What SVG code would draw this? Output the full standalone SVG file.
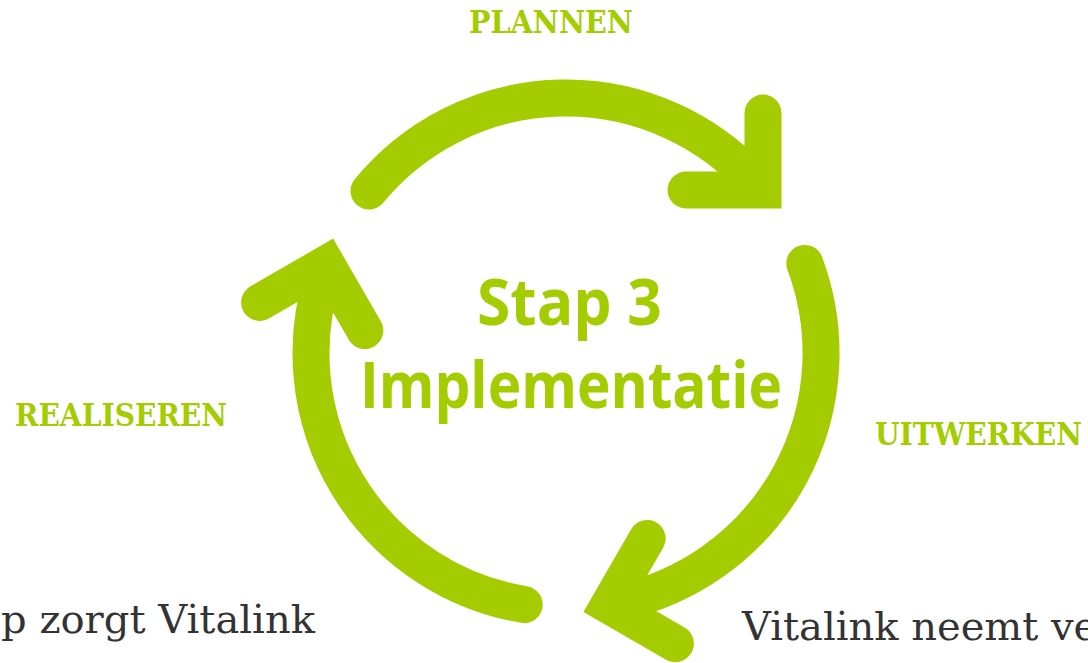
<svg xmlns="http://www.w3.org/2000/svg" width="1088" height="663" viewBox="0 0 1088 663">
<style>
.arr{fill:none;stroke:#a4cc00;stroke-width:37;stroke-linecap:round;stroke-linejoin:miter}
.lbl{font-family:"DejaVu Serif","Liberation Serif",serif;font-weight:bold;font-size:32px;fill:#a4cc00}
.ttl{font-family:"Open Sans","Liberation Sans",sans-serif;font-weight:bold;font-size:65px;fill:#a4cc00;text-anchor:middle}
.body{font-family:"DejaVu Serif","Liberation Serif",serif;font-size:40px;fill:#333333}
</style>
<defs>
<g id="arrow">
<path class="arr" d="M369,191 A255,255 0 0 1 755.5,182.4"/>
<path class="arr" d="M763,113 L763,190 L686,190"/>
</g>
</defs>
<rect width="1088" height="663" fill="#ffffff"/>
<g id="connectors">
<use href="#arrow"/>
<use href="#arrow" transform="rotate(120 566 353)"/>
<use href="#arrow" transform="rotate(240 566 353)"/>
</g>
<g id="plannen"><text class="lbl" x="469" y="33" textLength="164" lengthAdjust="spacingAndGlyphs">PLANNEN</text></g>
<g id="uitwerken"><text class="lbl" x="875" y="445" textLength="207" lengthAdjust="spacingAndGlyphs">UITWERKEN</text></g>
<g id="realiseren"><text class="lbl" x="15" y="426" textLength="212" lengthAdjust="spacingAndGlyphs">REALISEREN</text></g>
<g id="title">
<text class="ttl" x="569.5" y="325" textLength="185" lengthAdjust="spacingAndGlyphs">Stap 3</text>
<text class="ttl" x="571" y="408" textLength="422" lengthAdjust="spacingAndGlyphs">Implementatie</text>
</g>
<g id="text-left"><text class="body" x="1" y="633" textLength="314" lengthAdjust="spacingAndGlyphs">p zorgt Vitalink</text></g>
<g id="text-right"><text class="body" x="742" y="640">Vitalink neemt ve</text></g>
</svg>
